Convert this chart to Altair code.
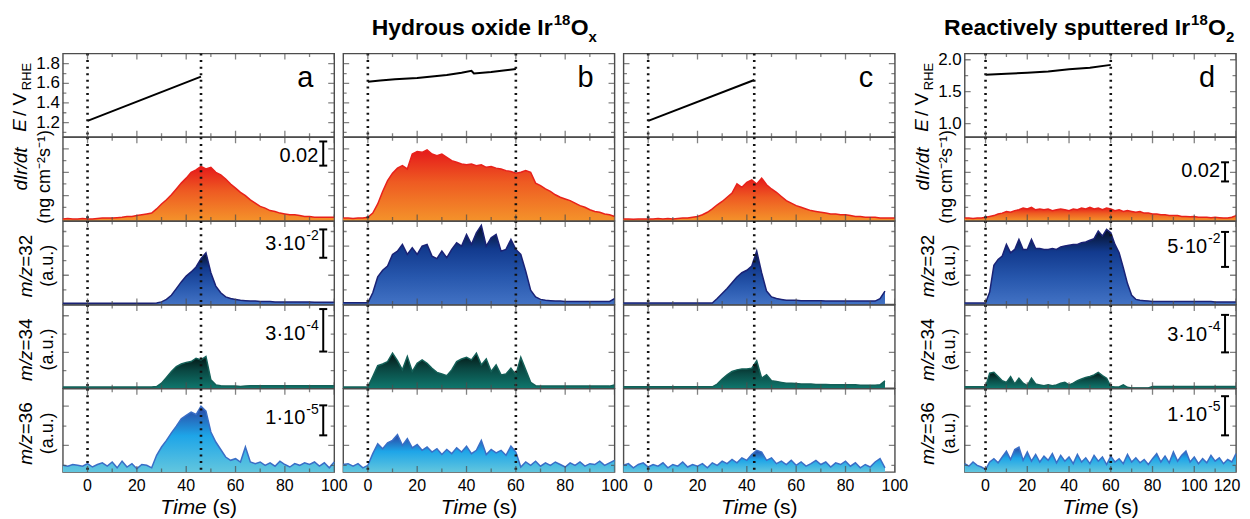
import altair as alt
import pandas as pd

# ---------------- data ----------------
T_ABC = list(range(-10, 101, 2))   # sampling grid, panels a-c (s)
T_D = list(range(-10, 121, 2))     # sampling grid, panel d (s)

# potential sweeps (V vs RHE)
A_E_T = [0, 46]
A_E_V = [1.217, 1.668]
B_E_T = [0, 5, 11, 20, 25, 32, 38, 42, 43, 50, 55, 60]
B_E_V = [1.615, 1.628, 1.642, 1.655, 1.668, 1.685, 1.708, 1.728, 1.700, 1.715, 1.730, 1.745]
C_E_T = [0, 43]
C_E_V = [1.217, 1.634]
D_E_T = [0, 10, 20, 30, 40, 50, 60]
D_E_V = [1.767, 1.780, 1.795, 1.815, 1.850, 1.875, 1.920]

# signals, in % of each panel's full scale
A_DIR = [2, 2.5, 2, 2, 2.5, 2, 2, 2.5, 3, 3,
         3, 3.5, 4, 5, 5, 6, 7, 8, 9, 14,
         20, 25, 31, 38, 45, 51, 58, 61, 65, 62,
         64, 58, 55, 50, 44, 39, 34, 30, 25, 21,
         17, 15, 12, 11, 9, 8, 7, 7, 6, 5,
         5, 4, 4, 4, 4, 4]
A_M32 = [1.5, 1.5, 1.5, 1.5, 1.5, 1.5, 1.5, 1.5, 1.5, 1.5,
         1.5, 1.5, 1.5, 1.5, 1.5, 1.5, 1.5, 1.5, 1.5, 1.8,
         3, 6, 11, 19, 27, 34, 39, 45, 55, 62,
         38, 22, 14, 9, 7, 6, 5, 4.5, 4, 4,
         3.5, 3.5, 3.5, 3, 3, 3, 3, 3, 3, 3,
         3, 2.5, 2.5, 2.5, 2.5, 2.5]
A_M34 = [1.5, 1.5, 1.5, 1.5, 1.5, 1.5, 1.5, 1.5, 1.5, 1.5,
         1.5, 1.5, 1.5, 1.5, 1.5, 1.5, 1.5, 1.5, 1.5, 2,
         6, 13, 20, 26, 29, 31, 32, 36, 34, 38,
         10, 4, 3, 2.5, 2.5, 2.5, 2, 2.5, 3, 3,
         3, 3, 3, 3, 3, 3, 3, 3, 3, 3,
         3, 3, 3, 3, 3, 3]
A_M36 = [8, 7, 9, 8, 7, 10, 6, 9, 11, 7,
         12, 5, 13, 6, 10, 4, 9, 8, 5, 20,
         30, 38, 47, 55, 64, 68, 72, 69, 79, 73,
         48, 36, 27, 18, 14, 16, 12, 30, 12, 10,
         12, 8, 11, 7, 13, 9, 6, 10, 8, 11,
         9, 12, 7, 11, 5, 12]

B_DIR = [3, 3, 2.5, 3, 3, 4, 9, 20, 35, 48,
         57, 63, 66, 62, 80, 83, 82, 85, 80, 78,
         80, 76, 72, 70, 68, 67, 68, 66, 67, 64,
         65, 63, 62, 60, 59, 57, 58, 60, 58, 45,
         42, 38, 35, 31, 28, 26, 24, 21, 18, 16,
         13, 11, 10, 8, 7, 5]
B_M32 = [2, 2, 2, 2, 2, 2, 14, 33, 41, 46,
         60, 64, 72, 60, 68, 60, 70, 72, 58, 55,
         64, 56, 66, 74, 70, 84, 72, 86, 95, 70,
         80, 84, 64, 66, 78, 66, 60, 40, 17, 9,
         6, 5, 4.5, 4, 4, 3.5, 3.5, 3.5, 3.5, 3.5,
         3.5, 3.5, 3.5, 3.5, 3.5, 7]
B_M34 = [1.5, 1.5, 1.5, 1.5, 1.5, 1.5, 14, 27, 29, 32,
         42, 33, 22, 38, 20, 30, 34, 30, 24, 19,
         17, 15, 22, 32, 35, 37, 34, 42, 28, 35,
         20, 28, 16, 17, 24, 16, 37, 22, 7, 3,
         2.5, 2.5, 2.5, 2.5, 2.5, 2.5, 2.5, 2.5, 2.5, 2.5,
         2.5, 2.5, 2.5, 2.5, 2.5, 4]
B_M36 = [9, 10, 7, 10, 5, 8, 22, 34, 28, 35,
         38, 45, 32, 40, 29, 33, 26, 30, 24, 28,
         21, 27, 22, 29, 24, 31, 22, 26, 38, 21,
         27, 23, 26, 20, 31, 24, 6, 12, 8, 13,
         7, 11, 8, 12, 9, 6, 11, 8, 12, 7,
         10, 9, 13, 8, 11, 14]

C_DIR = [2, 2, 1.5, 2, 2, 2, 2, 2.5, 2, 2.5,
         2, 2.5, 3, 3, 4, 5, 7, 10, 14, 19,
         23, 28, 33, 44, 40, 46, 49, 44, 51, 43,
         38, 34, 29, 24, 21, 18, 16, 14, 12, 11,
         10, 9, 8, 8, 7, 7, 6, 5, 5, 4,
         4, 4, 3, 3, 3, 3]
C_M32 = [1.6, 1.6, 1.6, 1.6, 1.6, 1.6, 1.6, 1.6, 1.6, 1.6,
         1.6, 1.6, 1.6, 1.6, 1.6, 1.6, 1.6, 1.6, 1.6, 7,
         13, 19, 26, 33, 38, 41, 46, 64, 38, 16,
         9, 7, 6, 5, 5, 5, 4.5, 4.5, 4.5, 4.5,
         4.5, 4, 4, 4, 4, 4, 4, 4, 4, 4,
         4, 4, 7, 16]
C_M34 = [1.6, 1.6, 1.6, 1.6, 1.6, 1.6, 1.6, 1.6, 1.6, 1.6,
         1.6, 1.6, 1.6, 1.6, 1.6, 1.6, 1.6, 1.6, 1.6, 5,
         11, 16, 20, 22, 23, 23, 24, 33, 12, 16,
         9, 8, 7, 6, 6, 5.5, 5, 5, 5, 4.5,
         4.5, 4.5, 4, 4, 4, 4, 4, 4, 3.5, 3.5,
         3.5, 3.5, 4, 9]
C_M36 = [8, 10, 5, 9, 11, 6, 9, 7, 11, 5,
         9, 7, 12, 6, 9, 7, 10, 5, 11, 8,
         13, 10, 15, 11, 17, 14, 21, 26, 24, 14,
         17, 10, 13, 9, 14, 8, 12, 7, 10, 14,
         9, 12, 6, 11, 9, 13, 7, 11, 5, 9,
         6, 12, 16, 5]

D_DIR = [3, 3, 2.5, 3, 3, 4, 5, 6, 8, 9,
         11, 10, 12, 13, 15, 14, 16, 13, 14, 13,
         14, 12, 13, 14, 13, 12, 14, 13, 15, 14,
         16, 14, 15, 13, 15, 14, 12, 13, 11, 12,
         11, 10, 11, 9, 9, 8, 8, 7, 7, 6,
         6, 6, 5, 5, 4.5, 5, 4, 4, 4, 3.5,
         4, 3.5, 3, 3, 4, 6]
D_M32 = [1.6, 1.6, 1.6, 1.6, 1.6, 1.6, 15, 47, 54, 58,
         72, 62, 66, 78, 66, 66, 78, 67, 67, 66,
         66, 67, 66, 69, 70, 71, 72, 72, 74, 75,
         77, 79, 88, 82, 90, 86, 72, 62, 44, 25,
         11, 6, 5, 4.5, 4, 3.5, 3.5, 3.5, 3.5, 3.5,
         3.5, 3.5, 3.5, 3.5, 3.5, 3.5, 3.5, 3.5, 3.5, 3.5,
         3, 3, 3, 3, 3, 3]
D_M34 = [1.6, 1.6, 1.6, 1.6, 1.6, 1.6, 18, 19, 14, 9,
         7, 14, 5, 12, 6, 3, 12, 5, 4, 3,
         4, 3, 4, 6, 7, 4, 6, 9, 11, 13,
         14, 16, 19, 15, 12, 2, 1.5, 1.5, 4, 1,
         0.3, 0.3, 0.3, 0.3, 0.3, 2, 2, 2, 2, 2,
         2, 2, 2, 2, 2, 2, 2, 2, 2, 2,
         2, 2, 2, 2, 2, 2]
D_M36 = [10, 7, 12, 8, 6, 3, 12, 16, 11, 18,
         25, 15, 27, 30, 14, 24, 13, 21, 12, 19,
         14, 22, 11, 20, 13, 18, 10, 21, 12, 17,
         10, 20, 13, 18, 9, 19, 12, 16, 10, 21,
         12, 17, 11, 15, 9, 16, 22, 12, 19, 11,
         24, 13, 20, 25, 12, 18, 10, 16, 11, 20,
         13, 17, 10, 15, 12, 22]

# start / end of the potential step (s)
A_MARK = [0, 46]
B_MARK = [0, 60]
C_MARK = [0, 43]
D_MARK = [0, 60]

# scale bars: label, exponent, lower end, upper end, label centre (panel units)
A_BARS = [("0.02", "", 66, 95, 78), ("3·10", "-2", 56, 90, 72),
          ("3·10", "-4", 44, 95, 65), ("1·10", "-5", 44, 80, 65)]
D_BARS = [("0.02", "", 47, 70, 59), ("5·10", "-2", 45, 87, 69),
          ("3·10", "-4", 43, 88, 64), ("1·10", "-5", 44, 91, 69)]

# tick positions and tick labels
X_MAJ_ABC = [0, 20, 40, 60, 80, 100]
X_MIN_ABC = [10, 30, 50, 70, 90]
X_MAJ_D = [0, 20, 40, 60, 80, 100, 120]
X_MIN_D = [10, 30, 50, 70, 90, 110]
E_MAJ_ABC = [1.2, 1.4, 1.6, 1.8]
E_LAB_ABC = ["1.2", "1.4", "1.6", "1.8"]
E_MIN_ABC = [1.1, 1.3, 1.5, 1.7]
E_MAJ_D = [1.0, 1.5, 2.0]
E_LAB_D = ["1.0", "1.5", "2.0"]
E_MIN_D = [1.25, 1.75]
R2_MAJ, R2_MIN = [30, 58, 86], [16, 44, 72]
R3_MAJ, R3_MIN = [35, 70], [17.5, 52.5, 87.5]
R4_MAJ, R4_MIN = [43, 87], [21, 65]
R5_MAJ, R5_MIN = [32, 79], [8, 55]

# ---------------- assembly ----------------
E_T = {"a": A_E_T, "b": B_E_T, "c": C_E_T, "d": D_E_T}
E_V = {"a": A_E_V, "b": B_E_V, "c": C_E_V, "d": D_E_V}
SERIES = {"a": [A_DIR, A_M32, A_M34, A_M36], "b": [B_DIR, B_M32, B_M34, B_M36],
          "c": [C_DIR, C_M32, C_M34, C_M36], "d": [D_DIR, D_M32, D_M34, D_M36]}
MARKERS = {"a": A_MARK, "b": B_MARK, "c": C_MARK, "d": D_MARK}
BARS = {"a": A_BARS, "d": D_BARS}
YTICKS = {1: (R2_MAJ, R2_MIN), 2: (R3_MAJ, R3_MIN), 3: (R4_MAJ, R4_MIN), 4: (R5_MAJ, R5_MIN)}

W = 272
H = 83.5
FONT = "Liberation Sans"
FRAME = "#4d4d4d"
NB = "\u00a0"

STYLE = {
    1: {"line": "#e8211b", "stops": [("#e5191a", 0), ("#ee5a22", 0.45), ("#f4922a", 1)]},
    2: {"line": "#1a2275", "stops": [("#050e26", 0), ("#123a8e", 0.3), ("#2757ad", 0.65), ("#4272c4", 1)]},
    3: {"line": "#146058", "stops": [("#031513", 0), ("#0a4843", 0.45), ("#0f766c", 1)]},
    4: {"line": "#3a6ec6", "stops": [("#2a44a2", 0), ("#1ea5e8", 0.45), ("#62c6de", 1)]},
}

ONE = pd.DataFrame({"o": [0]})


def xsc(col):
    return alt.Scale(domain=[-10, 120] if col == "d" else [-10, 100], nice=False, zero=False)


def ysc(col, row):
    if row == 0:
        return alt.Scale(domain=[0.793, 2.098] if col == "d" else [1.055, 1.904], nice=False, zero=False)
    return alt.Scale(domain=[0, 100], nice=False, zero=False)


def txt(s, x, y, size=19, style="normal", weight="normal", align="center",
        baseline="middle", angle=0):
    return alt.Chart(ONE).mark_text(
        text=s, font=FONT, fontSize=size, fontStyle=style, fontWeight=weight,
        align=align, baseline=baseline, angle=angle, color="black"
    ).encode(x=alt.value(x), y=alt.value(y))


def grad(stops):
    return alt.LinearGradient(
        gradient="linear",
        stops=[alt.GradientStop(color=c, offset=o) for c, o in stops],
        x1=0, x2=0, y1=0, y2=1)


def main_layer(col, row):
    xs, ys = xsc(col), ysc(col, row)
    if row == 0:
        df = pd.DataFrame({"t": E_T[col], "v": E_V[col]})
        ch = alt.Chart(df).mark_line(color="black", strokeWidth=2)
    else:
        vals = SERIES[col][row - 1]
        tt = (T_D if col == "d" else T_ABC)[: len(vals)]
        df = pd.DataFrame({"t": tt, "v": vals})
        st = STYLE[row]
        ch = alt.Chart(df).mark_area(color=grad(st["stops"]), opacity=1, fillOpacity=1,
                                     line={"color": st["line"], "strokeWidth": 1.5})
    return ch.encode(x=alt.X("t:Q", scale=xs, axis=None),
                     y=alt.Y("v:Q", scale=ys, axis=None))


def x_labels(col):
    vals = X_MAJ_D if col == "d" else X_MAJ_ABC
    out = []
    groups = [(vals[:-1], 0), (vals[-1:], -9)] if col == "d" else [(vals, 0)]
    for vv, dx in groups:
        df = pd.DataFrame({"v": vv, "lab": [str(v) for v in vv]})
        out.append(alt.Chart(df).mark_text(font=FONT, fontSize=16, baseline="middle", align="center",
                                           dx=dx, color="black").encode(
            x=alt.X("v:Q", scale=xsc(col), axis=None), y=alt.value(H + 14), text="lab:N"))
    return out


def y_labels(col):
    vals = E_MAJ_D if col == "d" else E_MAJ_ABC
    labs = E_LAB_D if col == "d" else E_LAB_ABC
    df = pd.DataFrame({"v": vals, "lab": labs})
    return alt.Chart(df).mark_text(font=FONT, fontSize=17, baseline="middle", align="right",
                                   color="black").encode(
        y=alt.Y("v:Q", scale=ysc(col, 0), axis=None), x=alt.value(-3), text="lab:N")


def dotted(col):
    return alt.Chart(pd.DataFrame({"t": MARKERS[col]})).mark_rule(
        color="#111111", strokeWidth=2.6, strokeDash=[2, 4.6]
    ).encode(x=alt.X("t:Q", scale=xsc(col), axis=None))


def tickdf(major, minor):
    return pd.DataFrame({"v": list(major) + list(minor),
                         "k": ["major"] * len(major) + ["minor"] * len(minor)})


TSIZE = alt.Size("k:O", scale=alt.Scale(domain=["major", "minor"], range=[12, 7]), legend=None)


def tick_layers(col, row):
    xs, ys = xsc(col), ysc(col, row)
    dx = tickdf(X_MAJ_D, X_MIN_D) if col == "d" else tickdf(X_MAJ_ABC, X_MIN_ABC)
    if row == 0:
        dy = tickdf(E_MAJ_D, E_MIN_D) if col == "d" else tickdf(E_MAJ_ABC, E_MIN_ABC)
    else:
        dy = tickdf(*YTICKS[row])
    kw = dict(color=FRAME, thickness=1.3, clip=True)
    out = []
    for yv in (0, H):
        out.append(alt.Chart(dx).mark_tick(orient="vertical", **kw).encode(
            x=alt.X("v:Q", scale=xs, axis=None), y=alt.value(yv), size=TSIZE))
    for xv in (0, W):
        out.append(alt.Chart(dy).mark_tick(orient="horizontal", **kw).encode(
            y=alt.Y("v:Q", scale=ys, axis=None), x=alt.value(xv), size=TSIZE))
    return out


def scalebar(col, row):
    lab, sup, y1, y2, yc = BARS[col][row - 1]
    ys = ysc(col, row)
    bx = W - 11
    out = [
        alt.Chart(pd.DataFrame({"y": [y1], "y2": [y2]})).mark_rule(color="black", strokeWidth=2).encode(
            x=alt.value(bx), y=alt.Y("y:Q", scale=ys, axis=None), y2="y2:Q"),
        alt.Chart(pd.DataFrame({"y": [y1, y2]})).mark_rule(color="black", strokeWidth=2).encode(
            x=alt.value(bx - 4), x2=alt.value(bx + 4), y=alt.Y("y:Q", scale=ys, axis=None)),
    ]
    xr = bx - 5 - (13 if sup else 0)
    out.append(alt.Chart(pd.DataFrame({"y": [yc]})).mark_text(
        text=lab, font=FONT, fontSize=20, align="right", baseline="middle", color="black"
    ).encode(x=alt.value(xr), y=alt.Y("y:Q", scale=ys, axis=None)))
    if sup:
        out.append(alt.Chart(pd.DataFrame({"y": [yc]})).mark_text(
            text=sup, font=FONT, fontSize=14, align="left", baseline="middle", dy=-8, color="black"
        ).encode(x=alt.value(xr + 1), y=alt.Y("y:Q", scale=ys, axis=None)))
    return out


def ytitle(row):
    cy = H / 2
    if row == 0:
        c = cy - 2
        return [txt("E", -43, c + 26, style="italic", align="right", angle=270),
                txt(NB + "/" + NB + "V", -43, c + 23, align="left", angle=270),
                txt("RHE", -36, c - 3, size=13, align="left", angle=270)]
    if row == 1:
        return [txt("dIr/dt", -42, cy - 10, style="italic", angle=270),
                txt("(ng cm⁻²s⁻¹)", -18, cy - 2, size=18, angle=270)]
    mz = {2: "=32", 3: "=34", 4: "=36"}[row]
    return [txt("m/z", -37, cy + 4, style="italic", align="right", angle=270),
            txt(mz, -37, cy + 4, align="left", angle=270),
            txt("(a.u.)", -15, cy + 3, size=18, angle=270)]


def xtitle():
    return [txt("Time", W / 2 + 8.2, H + 42, size=21, style="italic", align="right", baseline="alphabetic"),
            txt("(s)", W / 2 + 14, H + 42, size=21, align="left", baseline="alphabetic")]


def head_b():
    kw = dict(weight="bold", align="left", baseline="alphabetic")
    return [txt("Hydrous oxide Ir", 210, -19, size=23, weight="bold", align="right", baseline="alphabetic"),
            txt("18", 211, -29, size=15, **kw),
            txt("O", 228, -19, size=23, **kw),
            txt("x", 246, -12, size=15, **kw)]


def head_d():
    kw = dict(weight="bold", align="left", baseline="alphabetic")
    return [txt("Reactively sputtered Ir", 226, -19, size=23, weight="bold", align="right", baseline="alphabetic"),
            txt("18", 227, -29, size=15, **kw),
            txt("O", 244, -19, size=23, **kw),
            txt("2", 262, -12, size=15, **kw)]


def panel(col, row):
    layers = [main_layer(col, row), dotted(col)] + tick_layers(col, row)
    if row == 0:
        layers.append(txt(col, 243, 34, size=29, baseline="alphabetic"))
        if col in ("a", "d"):
            layers.append(y_labels(col))
    if col in ("a", "d"):
        layers += ytitle(row)
        if row > 0:
            layers += scalebar(col, row)
    if row == 4:
        layers += x_labels(col)
        layers += xtitle()
    if row == 0 and col == "b":
        layers += head_b()
    if row == 0 and col == "d":
        layers += head_d()
    return alt.layer(*layers).properties(width=W, height=H)


def spacer():
    return alt.Chart(ONE).mark_text(text=" ").encode(
        x=alt.value(0), y=alt.value(0)
    ).properties(width=52, height=H, view=alt.ViewBackground(strokeOpacity=0))


cells = []
for r in range(5):
    for col in ["a", "b", "c", "gap", "d"]:
        cells.append(spacer() if col == "gap" else panel(col, r))

chart = alt.concat(
    *cells, columns=5, spacing={"row": 0, "column": 9}, bounds="flush"
).properties(
    padding={"left": 2, "top": 3, "right": 0, "bottom": 0}
).configure_view(stroke=FRAME, strokeWidth=1.4)

chart.save("out.html", embed_options={"renderer": "svg", "actions": False})
